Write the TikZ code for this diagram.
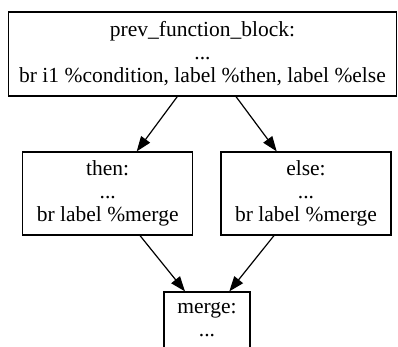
\documentclass[tikz,border=0pt]{standalone}
\usepackage{fontspec}
\setmainfont{Liberation Serif}
\usetikzlibrary{arrows.meta}
\tikzset{
  block/.style={draw, line width=1.2pt, inner sep=0pt, align=center,
    font=\fontsize{21.5}{23}\selectfont},
  flow/.style={draw, line width=1.2pt, -{Triangle[length=15pt,width=11pt]}}
}
\begin{document}
\begin{tikzpicture}[x=1pt,y=1pt]
  \useasboundingbox (0,0) rectangle (398,347);
  \begin{scope}
    \clip (0,0) rectangle (398,347);
    % basic blocks of the if/else control flow
    \node[block, minimum width=388pt, minimum height=84pt] (prev) at (202.5,293)
      {prev\_function\_block:\\...\\br i1 \%condition, label \%then, label \%else};
    \node[block, minimum width=170pt, minimum height=83pt] (then) at (107.7,153.5)
      {then:\\...\\br label \%merge};
    \node[block, minimum width=170pt, minimum height=83pt] (else) at (306,153.5)
      {else:\\...\\br label \%merge};
    \node[block, minimum width=86pt, minimum height=56pt] (merge) at (207,27)
      {merge:\\...};
    % branch edges
    \draw[flow] ([xshift=-25.2pt]prev.south) -- ([xshift=29pt]then.north);
    \draw[flow] ([xshift=33.5pt]prev.south) -- ([xshift=-29.3pt]else.north);
    \draw[flow] ([xshift=32.3pt]then.south) -- ([xshift=-22pt]merge.north);
    \draw[flow] ([xshift=-32pt]else.south) -- ([xshift=22.3pt]merge.north);
  \end{scope}
\end{tikzpicture}
\end{document}
